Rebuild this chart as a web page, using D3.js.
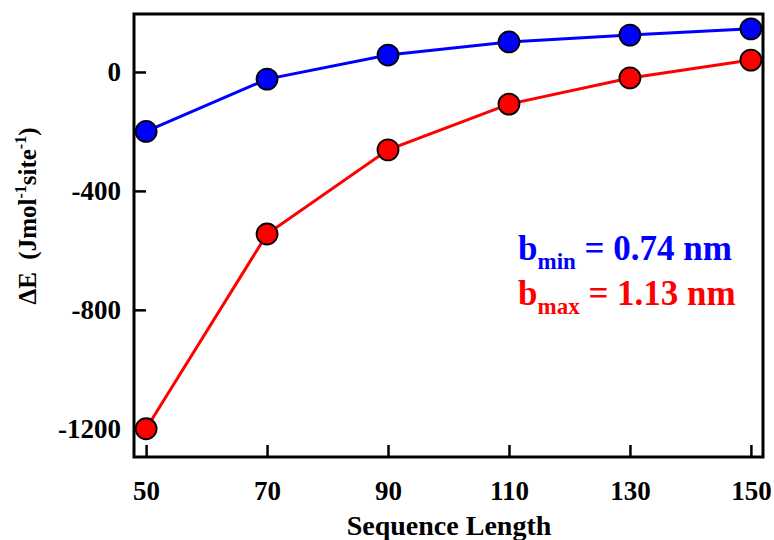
<!DOCTYPE html>
<html>
<head>
<meta charset="utf-8">
<script src="https://cdn.jsdelivr.net/npm/d3@7/dist/d3.min.js"></script>
<style>
  html, body { margin: 0; padding: 0; background: #fff; }
  svg { display: block; font-family: "Liberation Serif", "Times New Roman", serif; font-weight: bold; }
</style>
</head>
<body>
<svg id="chart" width="774" height="540"></svg>
<script>
// Sequence lengths on the x axis
const lengths = [50, 70, 90, 110, 130, 150];
// Energy change for the minimum spacing (blue) and maximum spacing (red)
const energyMin = [-200, -24, 57, 101, 124, 145];
const energyMax = [-1200, -545, -262, -108, -20, 40];
const xTicks = [50, 70, 90, 110, 130, 150];
const yTicks = [0, -400, -800, -1200];

const svg = d3.select("#chart");
const plot = { left: 134, right: 763, top: 14, bottom: 457 };

const x = d3.scaleLinear().domain([48, 152]).range([plot.left, plot.right]);
const y = d3.scaleLinear().domain([-1295, 195]).range([plot.bottom, plot.top]);

// Plain hyphen for negative tick labels
const fmt = d => String(d);

// Axes with inward ticks
const xAxis = svg.append("g").attr("transform", `translate(0,${plot.bottom})`)
  .call(d3.axisBottom(x).tickValues(xTicks).tickSize(-12).tickPadding(24).tickFormat(fmt));
const yAxis = svg.append("g").attr("transform", `translate(${plot.left},0)`)
  .call(d3.axisLeft(y).tickValues(yTicks).tickSize(-12).tickPadding(13).tickFormat(fmt));

[xAxis, yAxis].forEach(g => {
  g.select(".domain").remove();
  g.selectAll(".tick line").attr("stroke", "#000").attr("stroke-width", 2.5);
  g.selectAll(".tick text").attr("fill", "#000").attr("font-size", 27)
    .attr("font-family", "Liberation Serif, Times New Roman, serif").attr("font-weight", "bold");
});

// Frame
svg.append("rect").attr("x", plot.left).attr("y", plot.top)
  .attr("width", plot.right - plot.left).attr("height", plot.bottom - plot.top)
  .attr("fill", "none").attr("stroke", "#000").attr("stroke-width", 3);

const line = d3.line().x(d => x(d[0])).y(d => y(d[1]));

function drawSeries(values, color) {
  const pts = lengths.map((l, i) => [l, values[i]]);
  svg.append("path").datum(pts).attr("d", line)
    .attr("fill", "none").attr("stroke", color).attr("stroke-width", 3);
  svg.append("g").selectAll("circle").data(pts).join("circle")
    .attr("cx", d => x(d[0])).attr("cy", d => y(d[1])).attr("r", 10.5)
    .attr("fill", color).attr("stroke", "#000").attr("stroke-width", 1.8);
}
drawSeries(energyMin, "#0000ff");
drawSeries(energyMax, "#ff0000");

// Annotations
function annotate(yPos, sub, value, color) {
  const t = svg.append("text").attr("x", 518).attr("y", yPos)
    .attr("fill", color).attr("font-size", 35);
  t.append("tspan").text("b");
  t.append("tspan").attr("font-size", 23).attr("dy", 9).text(sub);
  t.append("tspan").attr("dy", -9).text(" = " + value + " nm");
}
annotate(260, "min", "0.74", "#0000ff");
annotate(305, "max", "1.13", "#ff0000");

// Axis titles
svg.append("text").attr("x", 449).attr("y", 535)
  .attr("text-anchor", "middle").attr("font-size", 28).text("Sequence Length");

const yl = svg.append("text").attr("transform", "translate(36,216) rotate(-90)")
  .attr("text-anchor", "middle").attr("font-size", 25)
  .attr("xml:space", "preserve");
yl.append("tspan").text("\u0394E\u00a0\u00a0(Jmol");
yl.append("tspan").attr("font-size", 16).attr("dy", -10).text("-1");
yl.append("tspan").attr("dy", 10).text("site");
yl.append("tspan").attr("font-size", 16).attr("dy", -10).text("-1");
yl.append("tspan").attr("dy", 10).text(")");
</script>
</body>
</html>
